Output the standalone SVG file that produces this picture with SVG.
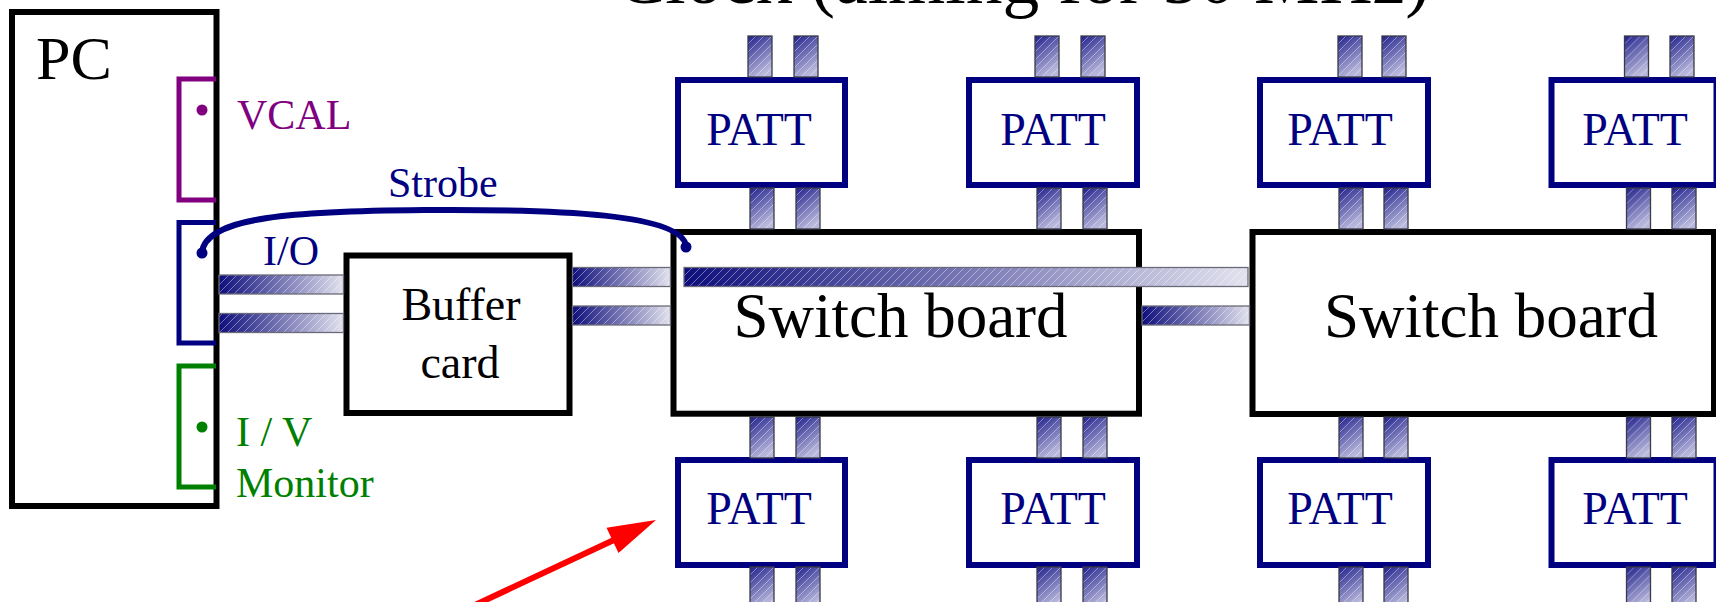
<svg xmlns="http://www.w3.org/2000/svg" xmlns:xlink="http://www.w3.org/1999/xlink" width="1716" height="602" viewBox="0 0 1716 602">
<style>
text{font-family:"Liberation Serif","Times New Roman",serif;}
.box{fill:#ffffff;stroke:#000000;stroke-width:6;}
.patt{fill:#ffffff;stroke:#000080;stroke-width:6;}
.pt{font-size:46px;fill:#000080;text-anchor:middle;}
.sw{font-size:63px;fill:#000000;text-anchor:middle;}
.lbl{font-size:42px;}
.hb{fill:url(#hg);}
.hh{fill:url(#hatch);stroke:#6a6a78;stroke-width:1.3;}
.br{fill:none;stroke-width:5;}
</style>
<defs>
<linearGradient id="hg" x1="0" y1="0" x2="1" y2="0">
<stop offset="0" stop-color="#0e0e7c"/>
<stop offset="1" stop-color="#e2e2ee"/>
</linearGradient>
<linearGradient id="vg" x1="0" y1="0" x2="0.4" y2="1">
<stop offset="0" stop-color="#20208c"/>
<stop offset="1" stop-color="#b8b8dc"/>
</linearGradient>
<pattern id="hatch" patternUnits="userSpaceOnUse" width="8" height="8">
<path d="M0,8 L8,0 M-2,2 L2,-2 M6,10 L10,6" stroke="#ffffff" stroke-width="0.8" stroke-opacity="0.5"/>
</pattern>
<g id="vbar">
<rect width="24" height="41" fill="url(#vg)"/>
<rect width="24" height="41" fill="url(#hatch)" stroke="#3a3a48" stroke-width="1.3"/>
</g>
</defs>

<g id="title">
<text x="1023" y="3" font-size="73.6" text-anchor="middle" fill="#000000">Clock (aiming for 50 MHz)</text>
</g>

<g id="pc">
<rect class="box" x="12" y="12" width="204.5" height="494"/>
<text x="36" y="79" font-size="62" fill="#000000">PC</text>
</g>

<g id="port-vcal">
<path class="br" stroke="#800080" d="M216,79 H179 V200 H216"/>
<circle cx="202" cy="110" r="5.5" fill="#800080"/>
<text class="lbl" x="237" y="129" fill="#800080">VCAL</text>
</g>

<g id="port-io">
<path class="br" stroke="#000080" d="M216,222.5 H179 V343 H216"/>
</g>

<g id="port-iv">
<path class="br" stroke="#008000" d="M216,366 H179 V487 H216"/>
<circle cx="202" cy="427" r="5.5" fill="#008000"/>
<text class="lbl" x="236" y="446" fill="#008000">I / V</text>
<text class="lbl" x="236" y="497" fill="#008000">Monitor</text>
</g>

<g id="buffer-card">
<rect class="box" x="346.5" y="255.5" width="223" height="157.5"/>
<text x="461" y="320" font-size="46" text-anchor="middle" fill="#000000">Buffer</text>
<text x="460" y="378" font-size="46" text-anchor="middle" fill="#000000">card</text>
</g>

<g id="switch-board-1">
<rect class="box" x="673.5" y="232" width="465.5" height="181.7"/>
<text class="sw" x="900.5" y="337">Switch board</text>
</g>

<g id="switch-board-2">
<rect class="box" x="1252.5" y="232" width="461.5" height="182"/>
<text class="sw" x="1491" y="337">Switch board</text>
</g>

<g id="patt-top-1"><rect class="patt" x="678" y="80" width="167" height="105"/><text class="pt" x="759" y="145">PATT</text></g>
<g id="patt-top-2"><rect class="patt" x="969" y="80" width="168" height="105"/><text class="pt" x="1053" y="145">PATT</text></g>
<g id="patt-top-3"><rect class="patt" x="1260" y="80" width="168" height="105"/><text class="pt" x="1340" y="145">PATT</text></g>
<g id="patt-top-4"><rect class="patt" x="1551.5" y="80" width="165" height="105"/><text class="pt" x="1635" y="145">PATT</text></g>
<g id="patt-bottom-1"><rect class="patt" x="678" y="460" width="167" height="105"/><text class="pt" x="759" y="524">PATT</text></g>
<g id="patt-bottom-2"><rect class="patt" x="969" y="460" width="168" height="105"/><text class="pt" x="1053" y="524">PATT</text></g>
<g id="patt-bottom-3"><rect class="patt" x="1260" y="460" width="168" height="105"/><text class="pt" x="1340" y="524">PATT</text></g>
<g id="patt-bottom-4"><rect class="patt" x="1551.5" y="460" width="165" height="105"/><text class="pt" x="1635" y="524">PATT</text></g>

<g id="connectors">
<!-- I/O cables PC to buffer -->
<rect class="hb" x="219" y="275" width="124.5" height="19"/><rect class="hh" x="219" y="275" width="124.5" height="19"/>
<rect class="hb" x="219" y="313.5" width="124.5" height="19"/><rect class="hh" x="219" y="313.5" width="124.5" height="19"/>
<!-- buffer to switch board -->
<rect class="hb" x="572.5" y="267.5" width="98" height="19"/><rect class="hh" x="572.5" y="267.5" width="98" height="19"/>
<rect class="hb" x="572.5" y="306" width="98" height="19"/><rect class="hh" x="572.5" y="306" width="98" height="19"/>
<!-- long bus across switch board 1 -->
<rect class="hb" x="684" y="267.5" width="564" height="19"/><rect class="hh" x="684" y="267.5" width="564" height="19"/>
<!-- switch board 1 to 2 -->
<rect class="hb" x="1142" y="306" width="107.5" height="19"/><rect class="hh" x="1142" y="306" width="107.5" height="19"/>

<!-- PATT column bars -->
<use xlink:href="#vbar" x="748" y="36"/><use xlink:href="#vbar" x="794" y="36"/>
<use xlink:href="#vbar" x="750" y="188"/><use xlink:href="#vbar" x="796" y="188"/>
<use xlink:href="#vbar" x="750" y="417"/><use xlink:href="#vbar" x="796" y="417"/>
<use xlink:href="#vbar" x="750" y="567"/><use xlink:href="#vbar" x="796" y="567"/>

<use xlink:href="#vbar" x="1035" y="36"/><use xlink:href="#vbar" x="1081" y="36"/>
<use xlink:href="#vbar" x="1037" y="188"/><use xlink:href="#vbar" x="1083" y="188"/>
<use xlink:href="#vbar" x="1037" y="417"/><use xlink:href="#vbar" x="1083" y="417"/>
<use xlink:href="#vbar" x="1037" y="567"/><use xlink:href="#vbar" x="1083" y="567"/>

<use xlink:href="#vbar" x="1338" y="36"/><use xlink:href="#vbar" x="1382" y="36"/>
<use xlink:href="#vbar" x="1339" y="188"/><use xlink:href="#vbar" x="1384" y="188"/>
<use xlink:href="#vbar" x="1339" y="417"/><use xlink:href="#vbar" x="1384" y="417"/>
<use xlink:href="#vbar" x="1339" y="567"/><use xlink:href="#vbar" x="1384" y="567"/>

<use xlink:href="#vbar" x="1624.5" y="36"/><use xlink:href="#vbar" x="1670" y="36"/>
<use xlink:href="#vbar" x="1626.5" y="188"/><use xlink:href="#vbar" x="1672" y="188"/>
<use xlink:href="#vbar" x="1626.5" y="417"/><use xlink:href="#vbar" x="1672" y="417"/>
<use xlink:href="#vbar" x="1626.5" y="567"/><use xlink:href="#vbar" x="1672" y="567"/>

<!-- Strobe line -->
<path d="M202,253 C204,216 300,211 424,210 C560,209 682,214 686,246" fill="none" stroke="#000080" stroke-width="6" stroke-linecap="round"/>
<circle cx="202" cy="253" r="5.5" fill="#000080"/>
<circle cx="686" cy="247" r="5.5" fill="#000080"/>
<text class="lbl" x="388" y="197" fill="#000080">Strobe</text>
<text class="lbl" x="263" y="265" fill="#000080">I/O</text>

<!-- red arrow -->
<line x1="460" y1="612" x2="616" y2="539" stroke="#ff0000" stroke-width="6"/>
<polygon points="656,520 606.5,527.7 618.5,553" fill="#ff0000"/>
</g>
</svg>
